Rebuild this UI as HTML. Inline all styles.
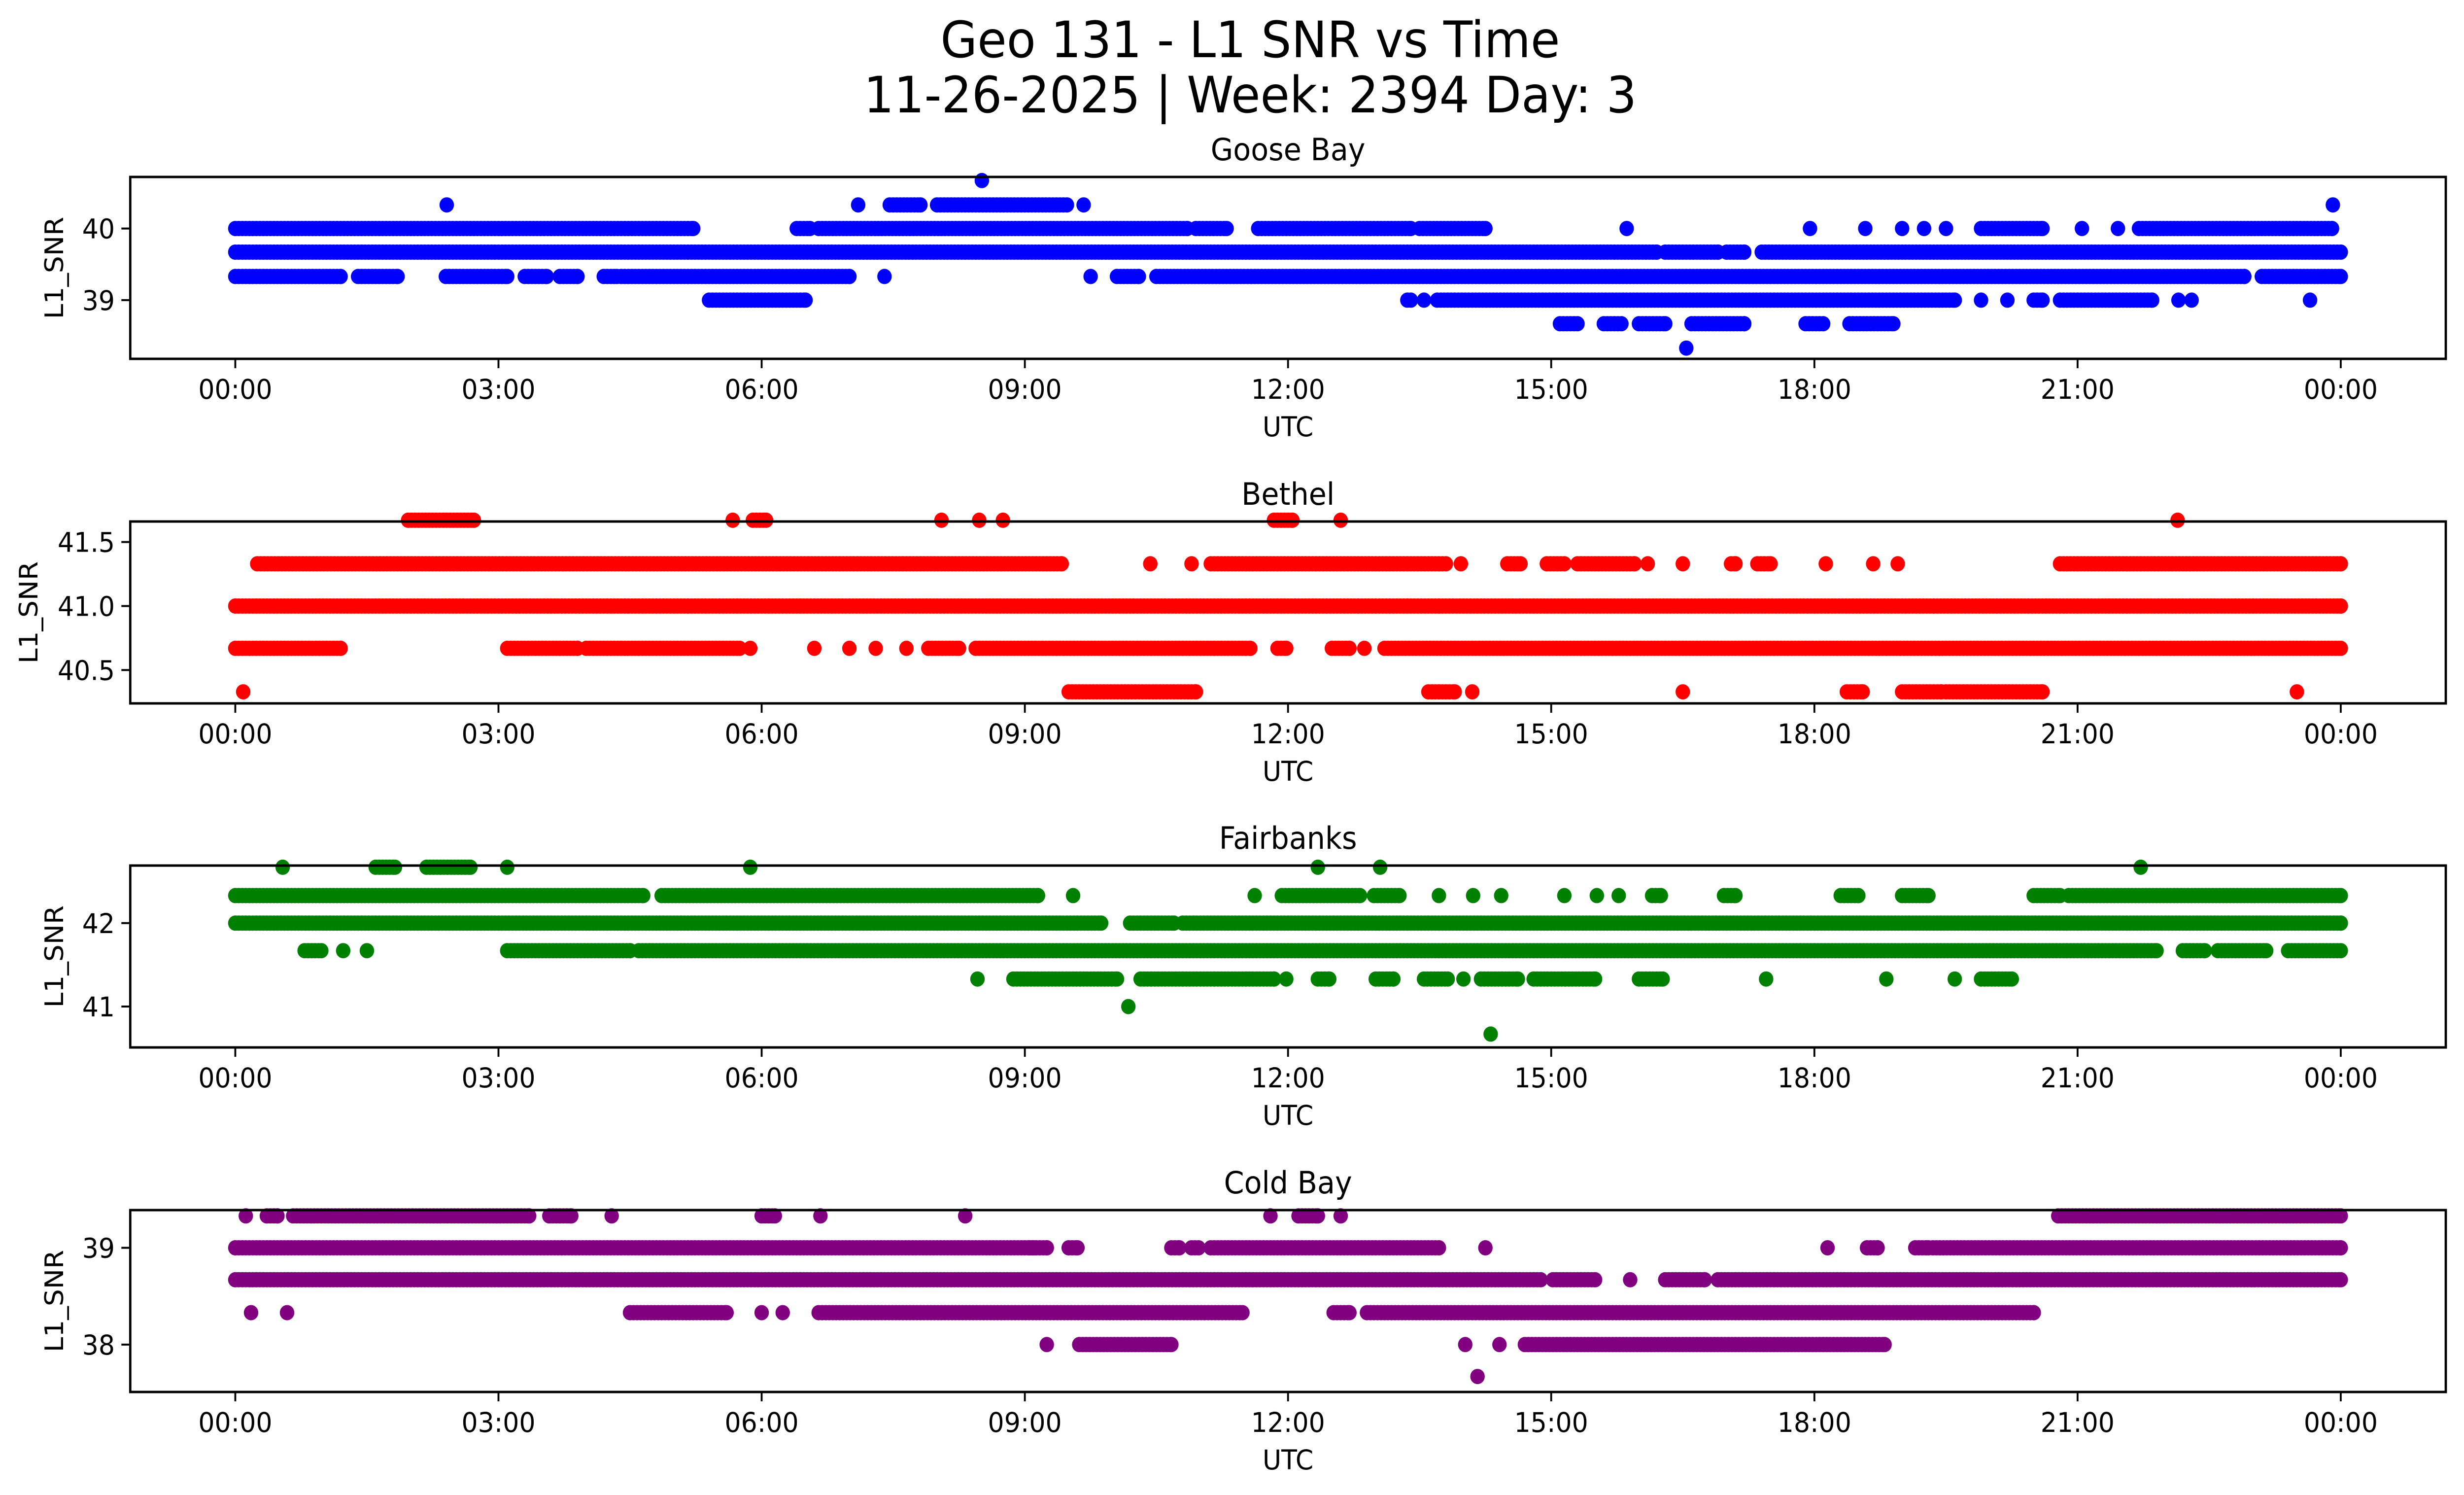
<!DOCTYPE html>
<html><head><meta charset="utf-8"><style>
html,body{margin:0;padding:0;background:#fff;overflow:hidden;}
svg{display:block;width:100vw;height:100vh;font-family:"DejaVu Sans","Liberation Sans",sans-serif;}
</style></head><body>
<svg id="fig" viewBox="0 0 5278 3033" preserveAspectRatio="none" xmlns="http://www.w3.org/2000/svg">
<rect width="5278" height="3033" fill="#fff"/>
<text x="2678" y="116" font-size="102" text-anchor="middle">Geo 131 - L1 SNR vs Time</text>
<text x="2678" y="228" font-size="102" text-anchor="middle">11-26-2025 | Week: 2394 Day: 3</text>
</svg>
<script>
// x tick labels (hours)
const xTickHours = [0,3,6,9,12,15,18,21,24];
const xTickLabels = ["00:00","03:00","06:00","09:00","12:00","15:00","18:00","21:00","00:00"];

// Goose Bay: SNR levels and time intervals (hours) at each level
const gooseLevels = [40.67, 40.33, 40.0, 39.67, 39.33, 39.0, 38.67, 38.33];
const gooseRuns = [
 [[8.51,8.51]],
 [[2.41,2.41],[7.1,7.1],[7.46,7.81],[8.0,9.48],[9.67,9.67],[23.91,23.91]],
 [[0,5.22],[6.4,6.55],[6.65,10.85],[10.95,11.3],[11.66,13.4],[13.5,14.25],[15.86,15.86],[17.95,17.95],[18.58,18.58],[19.0,19.0],[19.25,19.25],[19.5,19.5],[19.9,20.6],[21.05,21.05],[21.46,21.46],[21.7,23.9]],
 [[0,16.2],[16.3,16.9],[17.0,17.2],[17.4,24]],
 [[0,1.2],[1.4,1.85],[2.4,3.1],[3.3,3.55],[3.7,3.9],[4.2,4.35],[4.4,7.0],[7.4,7.4],[9.75,9.75],[10.05,10.3],[10.5,22.9],[23.1,24]],
 [[5.4,6.5],[13.36,13.4],[13.55,13.55],[13.7,19.6],[19.9,19.9],[20.2,20.2],[20.5,20.6],[20.8,21.85],[22.15,22.15],[22.3,22.3],[23.65,23.65]],
 [[15.1,15.3],[15.6,15.8],[16.0,16.3],[16.6,17.2],[17.9,18.1],[18.4,18.9]],
 [[16.54,16.54]]
];

// Bethel
const bethelLevels = [41.67, 41.33, 41.0, 40.67, 40.33];
const bethelRuns = [
 [[1.97,2.72],[5.67,5.67],[5.9,6.05],[8.05,8.05],[8.48,8.48],[8.75,8.75],[11.84,12.05],[12.6,12.6],[22.14,22.14]],
 [[0.25,9.42],[10.43,10.43],[10.9,10.9],[11.12,13.8],[13.97,13.97],[14.5,14.65],[14.95,15.15],[15.3,15.95],[16.1,16.1],[16.5,16.5],[17.05,17.1],[17.35,17.5],[18.13,18.13],[18.67,18.67],[18.95,18.95],[20.8,24]],
 [[0,24]],
 [[0,1.2],[3.1,3.9],[4.0,5.75],[5.87,5.87],[6.6,6.6],[7.0,7.0],[7.3,7.3],[7.65,7.65],[7.9,8.25],[8.44,11.57],[11.88,11.98],[12.5,12.7],[12.87,12.87],[13.1,24]],
 [[0.09,0.09],[9.5,10.95],[13.6,13.9],[14.1,14.1],[16.5,16.5],[18.37,18.55],[19.0,19.45],[19.5,20.6],[23.5,23.5]]
];

// Fairbanks
const fairLevels = [42.67, 42.33, 42.0, 41.67, 41.33, 41.0, 40.67];
const fairRuns = [
 [[0.54,0.54],[1.6,1.82],[2.18,2.68],[3.1,3.1],[5.87,5.87],[12.34,12.34],[13.05,13.05],[21.72,21.72]],
 [[0,4.65],[4.86,9.15],[9.55,9.55],[11.62,11.62],[11.93,12.82],[12.98,13.27],[13.72,13.72],[14.11,14.11],[14.43,14.43],[15.15,15.15],[15.52,15.52],[15.77,15.77],[16.15,16.25],[16.97,17.1],[18.3,18.5],[19.0,19.3],[20.5,20.8],[20.9,24]],
 [[0,9.87],[10.2,10.7],[10.8,24]],
 [[0.79,0.98],[1.23,1.23],[1.5,1.5],[3.1,4.5],[4.6,21.9],[22.2,22.45],[22.6,23.15],[23.4,24]],
 [[8.46,8.46],[8.87,10.05],[10.32,11.84],[11.98,11.98],[12.34,12.47],[13.0,13.2],[13.55,13.82],[14.0,14.0],[14.2,14.62],[14.8,15.5],[16.0,16.27],[17.45,17.45],[18.82,18.82],[19.6,19.6],[19.9,20.25]],
 [[10.18,10.18]],
 [[14.31,14.31]]
];

// Cold Bay
const coldLevels = [39.33, 39.0, 38.67, 38.33, 38.0, 37.67];
const coldRuns = [
 [[0.12,0.12],[0.36,0.48],[0.66,3.35],[3.58,3.83],[4.29,4.29],[6.0,6.15],[6.67,6.67],[8.32,8.32],[11.8,11.8],[12.12,12.34],[12.6,12.6],[20.78,24]],
 [[0,9.1],[9.05,9.25],[9.5,9.6],[10.67,10.76],[10.9,10.98],[11.12,13.72],[14.25,14.25],[18.15,18.15],[18.6,18.72],[19.15,19.3],[19.35,24]],
 [[0,14.88],[15.02,15.5],[15.9,15.9],[16.3,16.75],[16.9,24]],
 [[0.18,0.18],[0.59,0.59],[4.5,5.6],[6.0,6.0],[6.24,6.24],[6.65,11.48],[12.52,12.7],[12.9,20.5]],
 [[9.25,9.25],[9.62,10.67],[14.02,14.02],[14.41,14.41],[14.7,18.8]],
 [[14.16,14.16]]
];

const panels = [
 {name:"goose-bay", title:"Goose Bay", color:"#0000ff", top:359, ymin:38.18, ymax:40.72, ticks:[39,40], tickFmt:0, ylabX:120, levels:gooseLevels, runs:gooseRuns},
 {name:"bethel", title:"Bethel", color:"#ff0000", top:1058, ymin:40.24, ymax:41.66, ticks:[40.5,41.0,41.5], tickFmt:1, ylabX:65, levels:bethelLevels, runs:bethelRuns},
 {name:"fairbanks", title:"Fairbanks", color:"#008000", top:1756, ymin:40.51, ymax:42.69, ticks:[41,42], tickFmt:0, ylabX:120, levels:fairLevels, runs:fairRuns},
 {name:"cold-bay", title:"Cold Bay", color:"#800080", top:2455, ymin:37.51, ymax:39.39, ticks:[38,39], tickFmt:0, ylabX:120, levels:coldLevels, runs:coldRuns}
];

const NS = "http://www.w3.org/2000/svg";
const svg = document.getElementById("fig");
const AX_L = 279, AX_R = 5239, H = 369;
const X0 = 504, X24 = 5014;
function xScale(h){ return X0 + h * (X24 - X0) / 24; }
function mk(tag, attrs, parent){
  const e = document.createElementNS(NS, tag);
  for (const k in attrs) e.setAttribute(k, attrs[k]);
  (parent || svg).appendChild(e);
  return e;
}

panels.forEach(p => {
  const g = mk("g", {});
  
  
  const bot = p.top + H;
  const yScale = v => bot - (v - p.ymin) / (p.ymax - p.ymin) * H;

  const pts = mk("g", {fill: p.color}, g);
  
  
  p.levels.forEach((lv, i) => {
    const cy = yScale(lv);
    p.runs[i].forEach(r => {
      const step = 0.04;
      for (let h = r[0]; h <= r[1] + 1e-9; h += step) {
        const c = mk("circle", {cx: xScale(h).toFixed(1), cy: cy.toFixed(1), r: 15.5}, pts);
        
        
      }
      if ((r[1] - r[0]) % step > 0.005) {
        const c = mk("circle", {cx: xScale(r[1]).toFixed(1), cy: cy.toFixed(1), r: 15.5}, pts);
        
        
      }
    });
  });

  const fr = mk("rect", {x: AX_L, y: p.top, width: AX_R - AX_L, height: H, fill: "none", stroke: "#000", "stroke-width": 5}, g);
  
  

  xTickHours.forEach((h, i) => {
    const x = xScale(h);
    mk("line", {x1: x, x2: x, y1: bot, y2: bot + 19, stroke: "#000", "stroke-width": 4}, g);
    const t = mk("text", {x: x, y: bot + 81, "font-size": 55, "text-anchor": "middle"}, g);
    t.textContent = xTickLabels[i];
    
    
  });
  const xl = mk("text", {x: (AX_L + AX_R) / 2, y: bot + 157, "font-size": 55, "text-anchor": "middle"}, g);
  xl.textContent = "UTC";
  
  

  p.ticks.forEach(v => {
    const y = yScale(v);
    mk("line", {x1: AX_L - 19, x2: AX_L, y1: y, y2: y, stroke: "#000", "stroke-width": 4}, g);
    const t = mk("text", {x: AX_L - 33, y: y + 20, "font-size": 55, "text-anchor": "end"}, g);
    t.textContent = v.toFixed(p.tickFmt);
    
    
  });
  const yc = p.top + H / 2;
  const yl = mk("text", {x: p.ylabX, y: yc, "font-size": 55, "text-anchor": "middle", transform: `rotate(-90 ${p.ylabX} ${yc})`, "dominant-baseline": "middle"}, g);
  yl.textContent = "L1_SNR";
  
  

  const tt = mk("text", {x: (AX_L + AX_R) / 2, y: p.top - 34, "font-size": 62, "text-anchor": "middle"}, g);
  tt.textContent = p.title;
  
  
});
</script>
</body></html>
